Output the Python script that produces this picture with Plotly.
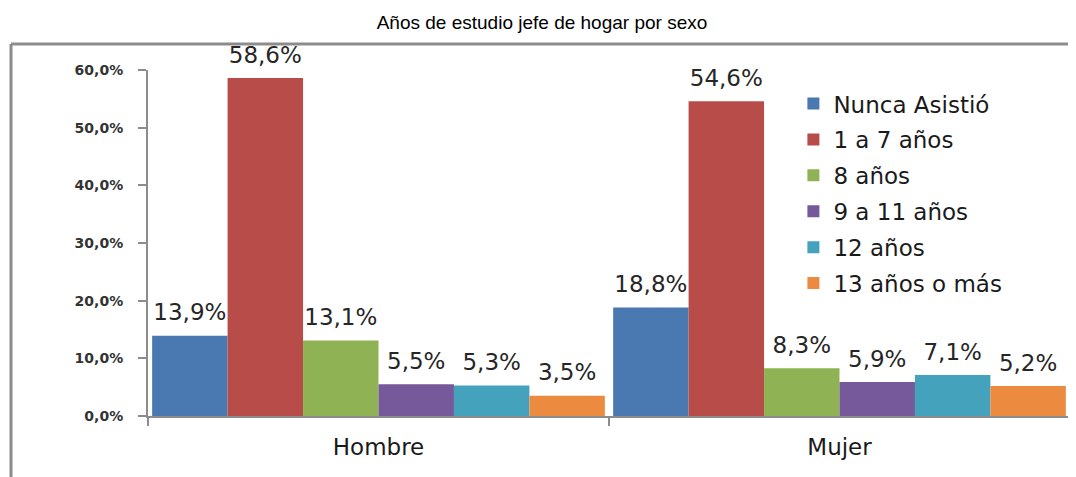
import plotly.graph_objects as go

categories = ["Hombre", "Mujer"]
series_names = ["Nunca Asistió", "1 a 7 años", "8 años", "9 a 11 años", "12 años", "13 años o más"]
nunca = [13.9, 18.8]
uno_siete = [58.6, 54.6]
ocho = [13.1, 8.3]
nueve_once = [5.5, 5.9]
doce = [5.3, 7.1]
trece_mas = [3.5, 5.2]
series_values = [nunca, uno_siete, ocho, nueve_once, doce, trece_mas]
colors = ["#4a78b0", "#b84c49", "#8fb255", "#76599a", "#45a2bc", "#ec8a3f"]
y_ticks = [0, 10, 20, 30, 40, 50, 60]

# page body has an 8px margin; figure coordinates = screen - 8
OFF = 8
W, H = 1076 - OFF, 477 - OFF
ml, mr, mt, mb = 148 - OFF, 6, 70 - OFF, 61
pw, ph = W - ml - mr, H - mt - mb

fig = go.Figure()
for name, vals, col in zip(series_names, series_values, colors):
    fig.add_trace(go.Bar(
        x=categories, y=vals, name=name, legendgroup=name,
        marker=dict(color=col, line=dict(width=0)),
        texttemplate="<span style='font-size:23px'>%{y:.1f}%</span><br><span style='color:rgba(0,0,0,0)'>.</span>",
        textposition="outside", constraintext="none", cliponaxis=False,
        textfont=dict(family="DejaVu Sans", size=8, color="#262626"),
    ))

fig.update_layout(
    width=W, height=H,
    margin=dict(l=ml, r=mr, t=mt, b=mb),
    paper_bgcolor="white", plot_bgcolor="white",
    barmode="group", bargap=0.018, bargroupgap=0,
    separators=",.",
    title=dict(text="Años de estudio jefe de hogar por sexo", x=0.5, xref="container",
               y=1 - (22 - OFF) / H, yref="container", xanchor="center", yanchor="middle",
               font=dict(family="Liberation Sans", size=19, color="black")),
    legend=dict(x=0.70, y=0.965, xanchor="left", yanchor="top",
                font=dict(family="DejaVu Sans", size=23, color="#1a1a1a"),
                tracegroupgap=3, bgcolor="rgba(0,0,0,0)"),
    xaxis=dict(showline=True, linecolor="#8c8c8c", linewidth=2, ticks="outside",
               tickson="boundaries", ticklen=8, tickcolor="#8c8c8c", tickwidth=2,
               ticklabelstandoff=9,
               tickfont=dict(family="DejaVu Sans", size=23, color="#1a1a1a"),
               showgrid=False, zeroline=False),
    yaxis=dict(range=[0, 60], tickvals=y_ticks, ticktext=[f"{v:.1f}%".replace(".", ",") for v in y_ticks],
               showline=True, linecolor="#8c8c8c", linewidth=2, ticks="outside",
               ticklen=8, tickcolor="#8c8c8c", tickwidth=2, ticklabelstandoff=12,
               tickfont=dict(family="DejaVu Sans", size=14, color="#333333", weight="bold"),
               showgrid=False, zeroline=False),
)

bx = (11 - 148) / pw
by = (416 - 44) / ph
fig.add_shape(type="line", xref="paper", yref="paper", x0=bx, x1=1.2, y0=by, y1=by,
              line=dict(color="#8c8c8c", width=3))
fig.add_shape(type="line", xref="paper", yref="paper", x0=bx, x1=bx, y0=by, y1=-0.3,
              line=dict(color="#8c8c8c", width=3))

fig.write_html("out.html")
